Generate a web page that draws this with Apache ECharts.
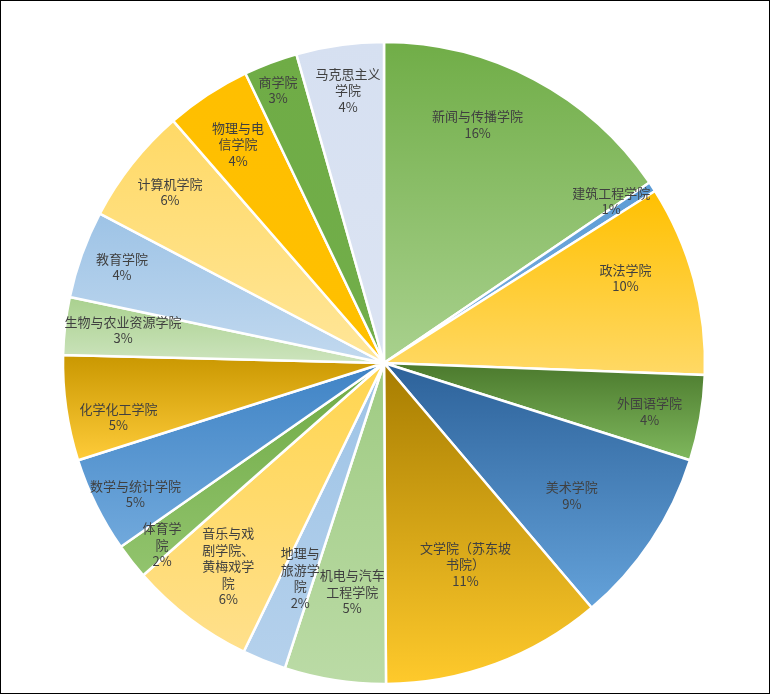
<!DOCTYPE html>
<html>
<head>
<meta charset="utf-8">
<script src="https://cdn.jsdelivr.net/npm/echarts@6/dist/echarts.min.js"></script>
<style>
html,body{margin:0;padding:0;background:#fff;}
#chart{width:770px;height:694px;box-sizing:border-box;border:1px solid #000;}
</style>
</head>
<body>
<div id="chart"></div>
<script>
// ---- data ----
const categories = ['新闻与传播学院','建筑工程学院','政法学院','外国语学院','美术学院','文学院（苏东坡书院）','机电与汽车工程学院','地理与旅游学院','音乐与戏剧学院、黄梅戏学院','体育学院','数学与统计学院','化学化工学院','生物与农业资源学院','教育学院','计算机学院','物理与电信学院','商学院','马克思主义学院'];
const shares = [15.5, 0.5, 9.6, 4.3, 8.9, 11.1, 5.1, 2.2, 6.3, 1.8, 4.8, 5.3, 2.9, 4.4, 5.9, 4.3, 2.7, 4.4];

// ---- styles ----
const gradTop    = ['#70AD47','#5B9BD5','#FFC000','#4A782C','#2C6199','#A67C00','#9FCB82','#9DC3E6','#FFD54F','#6FAA44','#3F83C5','#C99700','#A8D08D','#9DC3E6','#FFD966','#FFBF00','#6FAC46','#D6E0F1'];
const gradBottom = ['#A9D18E','#7EB0DF','#FFD966','#80B95E','#64A2DA','#FFCA2C','#BBDBA6','#B5D1EC','#FFE08C','#92C46E','#71A9DC','#FFCC3A','#CDE4BE','#C2D9EF','#FFE699','#FFC000','#72AE4A','#DCE4F3'];
const labelWrap  = [0,0,0,0,0,0,66,40,53,40,0,0,0,0,0,53,0,66];
const labelWrapWide = [0,0,0,0,0,92,0,0,0,0,0,0,0,0,0,0,0,0];
// label placement: [angle offset from slice middle (deg), distance from centre (px)]
const labelPlace = [[-6.45,256],[-2.2,279],[-4.3,256],[0.5,270],[1.6,230],[-1.7,217],[-0.9,231],[-0.7,231],[0.2,256],[-1.2,287],[-1.5,281],[-3.4,271],[0.5,263],[0.3,279],[0.3,274],[-0.4,263],[-0.5,293],[0.4,275]];

const CX = 383, CY = 362, R = 321;
const total = shares.reduce((a,b)=>a+b,0);
const startFrac = [];
let acc = 0;
shares.forEach(v => { startFrac.push(acc); acc += v; });

const data = categories.map((name, i) => {
  const w = labelWrap[i] || labelWrapWide[i];
  const item = {
    name: name,
    value: shares[i],
    itemStyle: {
      color: new echarts.graphic.LinearGradient(0, 0, 0, 1, [
        {offset: 0, color: gradTop[i]},
        {offset: 1, color: gradBottom[i]}
      ])
    }
  };
  if (w) item.label = {width: w, overflow: 'break'};
  return item;
});

const chart = echarts.init(document.getElementById('chart'));
chart.setOption({
  backgroundColor: '#fff',
  animation: false,
  series: [{
    type: 'pie',
    center: [CX, CY],
    radius: [0, R],
    startAngle: 90,
    clockwise: true,
    data: data,
    itemStyle: {borderColor: '#fff', borderWidth: 2.5},
    label: {
      show: true,
      position: 'inside',
      formatter: p => p.name + '\n' + Math.round(p.percent) + '%',
      color: '#404040',
      fontSize: 13,
      lineHeight: 16.5,
      fontFamily: '"Noto Sans CJK SC", sans-serif',
      align: 'center'
    },
    labelLine: {show: false},
    emphasis: {disabled: true},
    labelLayout: function (p) {
      const i = p.dataIndex;
      const mid = (startFrac[i] + shares[i] / 2) / total * 360 + labelPlace[i][0];
      const a = mid * Math.PI / 180;
      const r = labelPlace[i][1];
      return {
        x: CX + r * Math.sin(a),
        y: CY - r * Math.cos(a),
        align: 'center',
        verticalAlign: 'middle'
      };
    }
  }]
});
</script>
</body>
</html>
